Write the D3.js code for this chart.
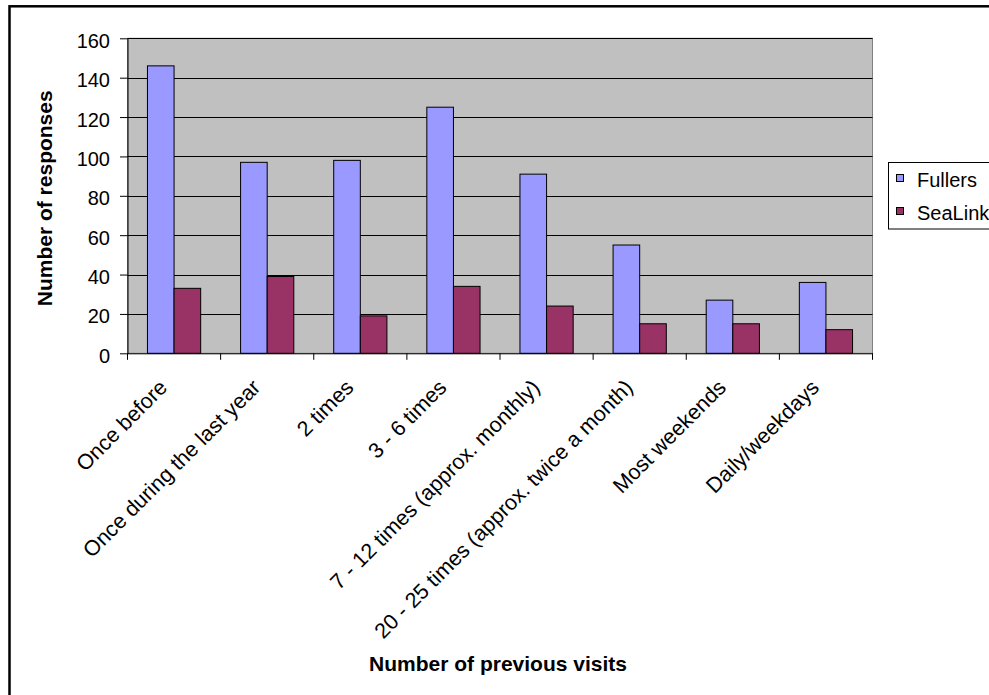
<!DOCTYPE html>
<html><head><meta charset="utf-8">
<script src="https://cdn.jsdelivr.net/npm/d3@7"></script>
<style>
html,body{margin:0;padding:0;background:#fff;}
svg{display:block;font-family:"Liberation Sans",Arial,sans-serif;}
</style></head>
<body>
<svg id="chart" width="989" height="695"></svg>
<script>
const categories = ["Once before","Once during the last year","2 times","3 - 6 times","7 - 12 times (approx. monthly)","20 - 25 times (approx. twice a month)","Most weekends","Daily/weekdays"];
const seriesNames = ["Fullers","SeaLink"];
const fullers = [146,97,98,125,91,55,27,36];
const sealink = [33,39,19,34,24,15,15,12];
const yTicks = [0,20,40,60,80,100,120,140,160];
const colors = ["#9999FF","#993366"];
const xTitle = "Number of previous visits";
const yTitle = "Number of responses";

const values = [fullers, sealink];
const svg = d3.select("#chart");
const plot = {left:127.5, top:38.3, right:872.5, bottom:353.3};

// outer chart border
svg.append("rect").attr("x",9.5).attr("y",6.3).attr("width",1200).attr("height",900)
  .attr("fill","#fff").attr("stroke","#000").attr("stroke-width",2.5);

const x = d3.scaleBand().domain(categories).range([plot.left, plot.right]).padding(0);
const x1 = d3.scaleBand().domain(seriesNames).range([0, x.bandwidth()]).paddingInner(0).paddingOuter(0.75);
const y = d3.scaleLinear().domain([0,160]).range([plot.bottom, plot.top]);

// plot area
svg.append("rect").attr("x",plot.left).attr("y",plot.top)
  .attr("width",plot.right-plot.left).attr("height",plot.bottom-plot.top)
  .attr("fill","#C0C0C0").attr("stroke","#808080").attr("stroke-width",1);

// gridlines
svg.append("g").selectAll("line").data(yTicks.filter(d=>d>0)).join("line")
  .attr("x1",plot.left).attr("x2",plot.right)
  .attr("y1",d=>Math.round(y(d))+0.5).attr("y2",d=>Math.round(y(d))+0.5)
  .attr("stroke","#000").attr("stroke-width",1);

// bars
seriesNames.forEach((s,si)=>{
  svg.append("g").selectAll("rect").data(categories).join("rect")
    .attr("x",(c)=>x(c)+x1(s))
    .attr("y",(c,i)=>y(values[si][i]))
    .attr("width",x1.bandwidth())
    .attr("height",(c,i)=>y(0)-y(values[si][i]))
    .attr("fill",colors[si]).attr("stroke","#000").attr("stroke-width",1);
});

// y axis
const yAxis = svg.append("g").attr("transform",`translate(${plot.left},0)`)
  .call(d3.axisLeft(y).tickValues(yTicks).tickSize(7.5).tickPadding(10).tickSizeOuter(0));
yAxis.select(".domain").attr("stroke","#000");
yAxis.selectAll(".tick line").attr("stroke","#000");
yAxis.selectAll("text").attr("font-size",20).attr("fill","#000")
  .attr("font-family","Liberation Sans, Arial, sans-serif").attr("dy","0.45em");

// x axis: boundary ticks
const xAxis = svg.append("g").attr("transform",`translate(0,${plot.bottom})`)
  .call(d3.axisBottom(x).tickSize(0).tickFormat(""));
xAxis.select(".domain").attr("stroke","#000");
const boundaries = categories.map(c=>x(c)).concat([x(categories[categories.length-1])+x.bandwidth()]);
xAxis.selectAll("line.bound").data(boundaries).join("line").attr("class","bound")
  .attr("x1",d=>d).attr("x2",d=>d).attr("y1",0).attr("y2",6.5)
  .attr("stroke","#000").attr("stroke-width",1);

// x labels rotated
svg.append("g").selectAll("text").data(categories).join("text")
  .attr("transform",c=>`translate(${x(c)+x.bandwidth()/2-5.5},${plot.bottom+35.5}) rotate(-45)`)
  .attr("text-anchor","end").attr("font-size",21.5).attr("fill","#000")
  .text(c=>c);

// axis titles
svg.append("text").attr("x",498).attr("y",670.5).attr("text-anchor","middle")
  .attr("font-size",21).attr("font-weight","bold").attr("fill","#000").text(xTitle);
svg.append("text").attr("transform",`translate(51.5,198.3) rotate(-90)`).attr("text-anchor","middle")
  .attr("font-size",21).attr("font-weight","bold").attr("fill","#000").text(yTitle);

// legend
const lg = svg.append("g");
lg.append("rect").attr("x",888.5).attr("y",162.5).attr("width",200).attr("height",66.5)
  .attr("fill","#fff").attr("stroke","#000").attr("stroke-width",1);
seriesNames.forEach((s,i)=>{
  lg.append("rect").attr("x",896.5).attr("y",174.5+33*i).attr("width",7).attr("height",7)
    .attr("fill",colors[i]).attr("stroke","#000").attr("stroke-width",1);
  lg.append("text").attr("x",917).attr("y",187+33*i).attr("font-size",20).attr("fill","#000").text(s);
});
</script>
</body></html>
